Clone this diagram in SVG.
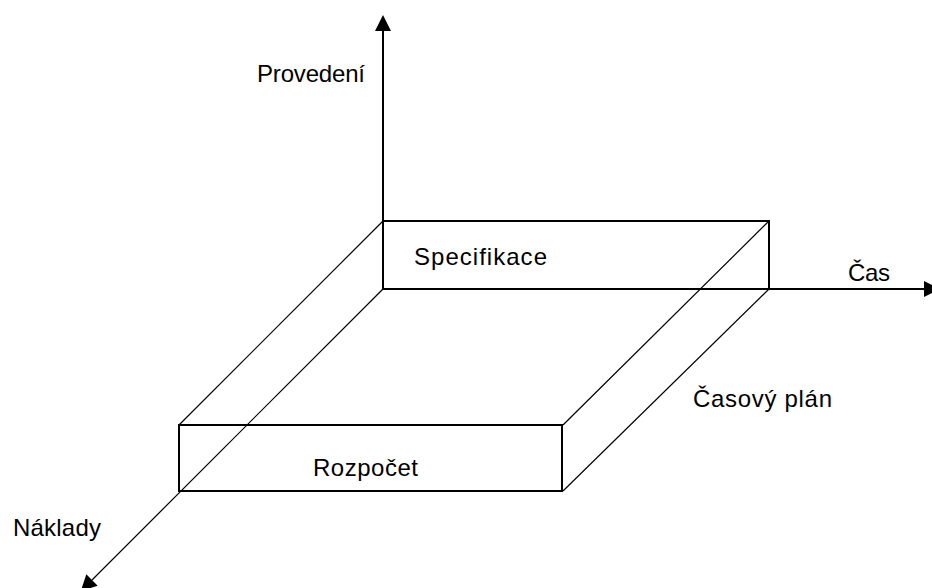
<svg xmlns="http://www.w3.org/2000/svg" width="932" height="588" viewBox="0 0 932 588">
  <style>
    .axis { stroke: #000; stroke-width: 2; fill: none; }
    .edge { stroke: #000; stroke-width: 2; fill: none; }
    .thin { stroke: #000; stroke-width: 1.2; fill: none; }
    .lbl { font-family: "Liberation Sans", Arial, sans-serif; font-size: 24px; fill: #000; }
  </style>
  <defs>
    <marker id="arrow" markerUnits="userSpaceOnUse" markerWidth="16" markerHeight="16" refX="0" refY="8" orient="auto">
      <path d="M0,0 L16,8 L0,16 Z" fill="#000"/>
    </marker>
  </defs>
  <rect width="932" height="588" fill="#fff"/>
  <g id="connectors">
    <line class="axis" x1="383" y1="289" x2="383" y2="31" marker-end="url(#arrow)"/>
    <line class="axis" x1="383" y1="289" x2="924" y2="289" marker-end="url(#arrow)"/>
    <line class="thin" x1="383" y1="289" x2="92" y2="580" marker-end="url(#arrow)"/>
  </g>
  <g id="box">
    <g id="specifikace">
      <rect class="edge" x="383" y="221" width="386" height="68"/>
      <text class="lbl" x="414" y="265" textLength="133" lengthAdjust="spacing">Specifikace</text>
    </g>
    <g id="rozpocet">
      <rect class="edge" x="179" y="425" width="383" height="66"/>
      <text class="lbl" x="313" y="476" textLength="105" lengthAdjust="spacing">Rozpočet</text>
    </g>
    <g id="edges">
      <line class="thin" x1="383" y1="221" x2="179" y2="425"/>
      <line class="thin" x1="769" y1="221" x2="563" y2="425"/>
      <line class="thin" x1="769" y1="289" x2="563" y2="491"/>
    </g>
  </g>
  <g id="labels">
    <text id="provedeni" class="lbl" x="257" y="82" textLength="108" lengthAdjust="spacing">Provedení</text>
    <text id="cas" class="lbl" x="848" y="281" textLength="42" lengthAdjust="spacing">Čas</text>
    <text id="casovy-plan" class="lbl" x="693" y="407" textLength="139" lengthAdjust="spacing">Časový plán</text>
    <text id="naklady" class="lbl" x="13" y="536" textLength="88" lengthAdjust="spacing">Náklady</text>
  </g>
</svg>
